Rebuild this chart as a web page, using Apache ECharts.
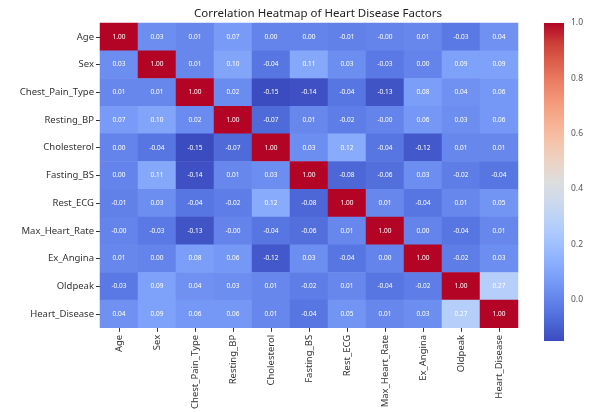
<!DOCTYPE html>
<html>
<head>
<meta charset="utf-8">
<script src="https://cdn.jsdelivr.net/npm/echarts@6/dist/echarts.min.js"></script>
<style>
  html, body { margin: 0; padding: 0; background: #ffffff; }
  #chart { width: 589px; height: 412px; }
</style>
</head>
<body>
<div id="chart"></div>
<script>
// Variables shown on both axes
const factors = ['Age', 'Sex', 'Chest_Pain_Type', 'Resting_BP', 'Cholesterol', 'Fasting_BS',
  'Rest_ECG', 'Max_Heart_Rate', 'Ex_Angina', 'Oldpeak', 'Heart_Disease'];

// Pairwise correlation coefficients, one row per factor
const rowAge          = [ 1.00,  0.03,  0.01,  0.07,  0.00,  0.00, -0.01, -0.00,  0.01, -0.03,  0.04];
const rowSex          = [ 0.03,  1.00,  0.01,  0.10, -0.04,  0.11,  0.03, -0.03,  0.00,  0.09,  0.09];
const rowChestPain    = [ 0.01,  0.01,  1.00,  0.02, -0.15, -0.14, -0.04, -0.13,  0.08,  0.04,  0.06];
const rowRestingBP    = [ 0.07,  0.10,  0.02,  1.00, -0.07,  0.01, -0.02, -0.00,  0.06,  0.03,  0.06];
const rowCholesterol  = [ 0.00, -0.04, -0.15, -0.07,  1.00,  0.03,  0.12, -0.04, -0.12,  0.01,  0.01];
const rowFastingBS    = [ 0.00,  0.11, -0.14,  0.01,  0.03,  1.00, -0.08, -0.06,  0.03, -0.02, -0.04];
const rowRestECG      = [-0.01,  0.03, -0.04, -0.02,  0.12, -0.08,  1.00,  0.01, -0.04,  0.01,  0.05];
const rowMaxHR        = [-0.00, -0.03, -0.13, -0.00, -0.04, -0.06,  0.01,  1.00,  0.00, -0.04,  0.01];
const rowExAngina     = [ 0.01,  0.00,  0.08,  0.06, -0.12,  0.03, -0.04,  0.00,  1.00, -0.02,  0.03];
const rowOldpeak      = [-0.03,  0.09,  0.04,  0.03,  0.01, -0.02,  0.01, -0.04, -0.02,  1.00,  0.27];
const rowHeartDisease = [ 0.04,  0.09,  0.06,  0.06,  0.01, -0.04,  0.05,  0.01,  0.03,  0.27,  1.00];

const matrix = [rowAge, rowSex, rowChestPain, rowRestingBP, rowCholesterol, rowFastingBS,
  rowRestECG, rowMaxHR, rowExAngina, rowOldpeak, rowHeartDisease];

// Colour bar tick values
const colorbarTicks = [0.0, 0.2, 0.4, 0.6, 0.8, 1.0];

// Diverging cool-warm palette
const coolwarm = ['#3b4cc0', '#4d68d7', '#6282ea', '#779af7', '#8db0fe', '#a3c2ff',
  '#b8d0f9', '#ccd9ee', '#dddddd', '#ecd3c5', '#f5c4ac', '#f7b193', '#f49a7b',
  '#ec7f63', '#de604d', '#cb3e38', '#b40426'];

const cells = [];
matrix.forEach((row, yi) => {
  row.forEach((v, xi) => cells.push([xi, yi, v]));
});

const flat = matrix.flat();
const vmin = Math.min(...flat);
const vmax = Math.max(...flat);

// Two decimals, keeping the sign of negative zero
const fmt2 = v => (Object.is(v, -0) ? '-' : '') + v.toFixed(2);

const font = 'Noto Sans';
const chart = echarts.init(document.getElementById('chart'), null, { renderer: 'canvas' });

chart.setOption({
  backgroundColor: '#ffffff',
  animation: false,
  textStyle: { fontFamily: font },
  title: {
    text: 'Correlation Heatmap of Heart Disease Factors',
    left: 313,
    textAlign: 'center',
    top: 3,
    textStyle: { fontSize: 11.5, fontWeight: 'normal', color: '#222', fontFamily: font }
  },
  grid: [
    { left: 100, top: 23, width: 418, height: 318 },
    { left: 544, top: 23, width: 20, height: 318 }
  ],
  xAxis: [
    {
      type: 'category', data: factors, gridIndex: 0,
      axisLine: { show: false },
      axisTick: { show: true, alignWithLabel: true, length: 4, lineStyle: { color: '#333' } },
      axisLabel: { rotate: 90, fontSize: 9.5, color: '#333', margin: 7, interval: 0 },
      splitLine: { show: false }
    },
    { type: 'value', gridIndex: 1, show: false, min: 0, max: 1 }
  ],
  yAxis: [
    {
      type: 'category', data: factors, inverse: true, gridIndex: 0,
      axisLine: { show: false },
      axisTick: { show: true, alignWithLabel: true, length: 4, lineStyle: { color: '#333' } },
      axisLabel: { fontSize: 9.5, color: '#333', margin: 6, interval: 0 },
      splitLine: { show: false }
    },
    {
      type: 'value', gridIndex: 1, position: 'right', min: vmin, max: vmax,
      axisLine: { show: false },
      axisTick: { show: true, length: 3, customValues: colorbarTicks, lineStyle: { color: '#555' } },
      axisLabel: {
        fontSize: 8.5, color: '#555', margin: 7, customValues: colorbarTicks,
        formatter: v => v.toFixed(1)
      },
      splitLine: { show: false }
    }
  ],
  visualMap: {
    type: 'continuous',
    show: false,
    min: vmin, max: vmax,
    seriesIndex: 0,
    inRange: { color: coolwarm }
  },
  series: [
    {
      type: 'heatmap',
      xAxisIndex: 0, yAxisIndex: 0,
      data: cells,
      label: {
        show: true,
        fontSize: 6.5,
        color: '#ffffff',
        formatter: p => fmt2(p.value[2])
      },
      itemStyle: { borderWidth: 0 },
      emphasis: { disabled: true }
    },
    {
      // Colour bar: one gradient strip spanning the value range
      type: 'custom',
      xAxisIndex: 1, yAxisIndex: 1,
      silent: true,
      data: [[0, 1, vmin, vmax]],
      renderItem: (params, api) => {
        const topLeft = api.coord([api.value(0), api.value(3)]);
        const botRight = api.coord([api.value(1), api.value(2)]);
        const stops = coolwarm.map((c, i) => ({ offset: i / (coolwarm.length - 1), color: c }));
        return {
          type: 'rect',
          shape: {
            x: topLeft[0], y: topLeft[1],
            width: botRight[0] - topLeft[0], height: botRight[1] - topLeft[1]
          },
          // gradient runs bottom (low values) to top (high values)
          style: { fill: new echarts.graphic.LinearGradient(0, 1, 0, 0, stops) }
        };
      }
    }
  ]
});
</script>
</body>
</html>
